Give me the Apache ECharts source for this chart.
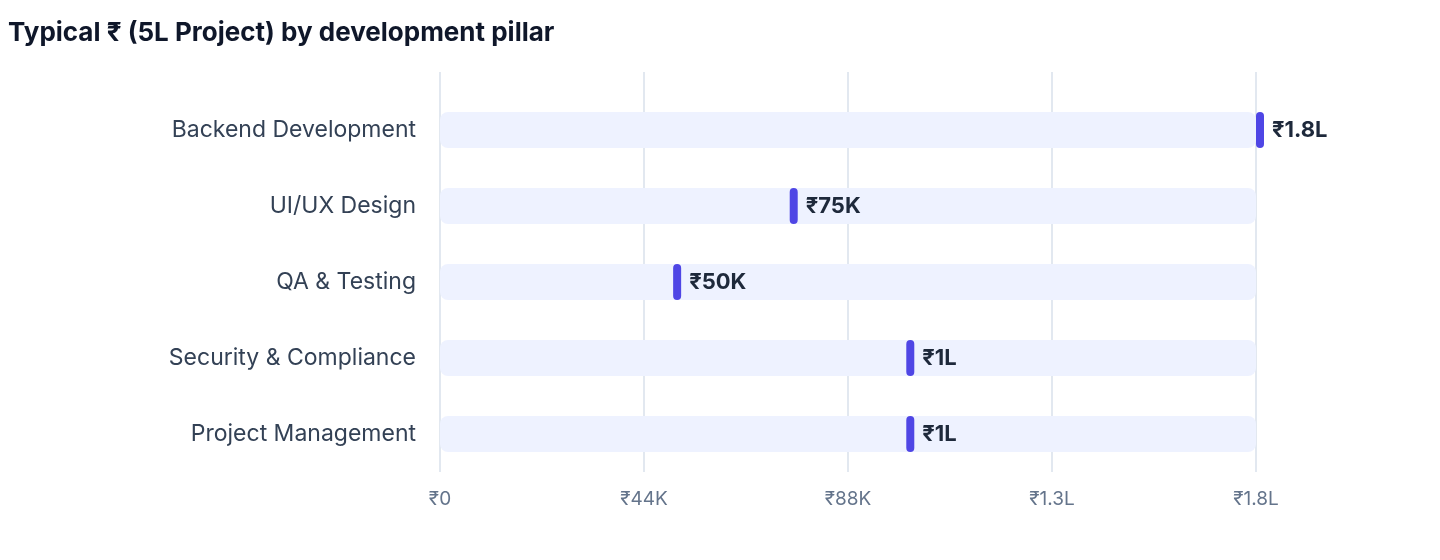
<!DOCTYPE html>
<html>
<head>
<meta charset="utf-8">
<title>Typical ₹ by development pillar</title>
<script src="https://cdn.jsdelivr.net/npm/echarts@6/dist/echarts.min.js"></script>
<style>
  html, body { margin: 0; padding: 0; background: #fff; }
  #chart { width: 1440px; height: 560px; }
</style>
</head>
<body>
<div id="chart"></div>
<script>
// Datos del gráfico
const pilares = ['Backend Development', 'UI/UX Design', 'QA & Testing', 'Security & Compliance', 'Project Management'];
const montos = [180000, 75000, 50000, 100000, 100000];
const ejeMax = 175000;      // el eje termina en ₹1.8L (175K redondeado)
const ejeIntervalo = 43750; // ₹44K, ₹88K, ₹1.3L, ₹1.8L

const FUENTE = 'Inter, "Liberation Sans", "Noto Sans", sans-serif';

// ₹ con sufijo K / L (lakh)
function formatoRupia(v) {
    if (v >= 100000) return '₹' + (+(v / 100000).toFixed(1)) + 'L';
    if (v >= 1000) return '₹' + Math.round(v / 1000) + 'K';
    return '₹' + v;
}

const chart = echarts.init(document.getElementById('chart'));

// El marcador se dibuja desde el valor (recortado al máximo del eje) hacia la derecha
function dibujarMarcador(params, api) {
    const valor = api.value(0);
    const pos = api.coord([Math.min(valor, ejeMax), api.value(1)]);
    const alto = 36;
    return {
        type: 'group',
        children: [
            {
                type: 'rect',
                shape: { x: pos[0], y: pos[1] - alto / 2, width: 8, height: alto, r: 4 },
                style: { fill: '#4f46e5' }
            },
            {
                type: 'text',
                x: pos[0] + 16,
                y: pos[1],
                style: {
                    text: formatoRupia(valor),
                    fill: '#1e293b',
                    font: 'bold 22px ' + FUENTE,
                    verticalAlign: 'middle',
                    align: 'left'
                }
            }
        ]
    };
}

const option = {
    animation: false,
    textStyle: { fontFamily: FUENTE },
    title: {
        text: 'Typical ₹ (5L Project) by development pillar',
        left: 3,
        top: 15,
        textStyle: { fontSize: 26, fontWeight: 'bold', color: '#0f172a', fontFamily: FUENTE }
    },
    grid: [
        // rejilla de las líneas verticales y etiquetas del eje X
        { left: 440, right: 184, top: 72, bottom: 88 },
        // rejilla de las barras
        { left: 440, right: 184, top: 92, bottom: 88 }
    ],
    xAxis: [
        {
            gridIndex: 0,
            type: 'value',
            min: 0,
            max: ejeMax,
            interval: ejeIntervalo,
            axisLine: { show: false },
            axisTick: { show: false },
            splitLine: { lineStyle: { color: '#e2e8f0', width: 2 } },
            axisLabel: {
                formatter: formatoRupia,
                color: '#64748b',
                fontSize: 19,
                margin: 18,
                fontFamily: FUENTE
            }
        },
        {
            gridIndex: 1,
            type: 'value',
            min: 0,
            max: ejeMax,
            show: false
        }
    ],
    yAxis: [
        { gridIndex: 0, type: 'value', show: false },
        {
            gridIndex: 1,
            type: 'category',
            data: pilares,
            inverse: true,
            axisLine: { show: false },
            axisTick: { show: false },
            splitLine: { show: false },
            axisLabel: {
                color: '#334155',
                fontSize: 23,
                margin: 24,
                fontFamily: FUENTE
            }
        }
    ],
    series: [
        {
            name: 'pista',
            type: 'bar',
            xAxisIndex: 1,
            yAxisIndex: 1,
            data: pilares.map(() => ejeMax),
            barWidth: 36,
            silent: true,
            itemStyle: { color: '#eef2ff', borderRadius: 8 },
            z: 1
        },
        {
            name: 'Typical ₹',
            type: 'custom',
            xAxisIndex: 1,
            yAxisIndex: 1,
            renderItem: dibujarMarcador,
            data: montos.map((v, i) => [v, i]),
            z: 3
        }
    ]
};

chart.setOption(option);
</script>
</body>
</html>
